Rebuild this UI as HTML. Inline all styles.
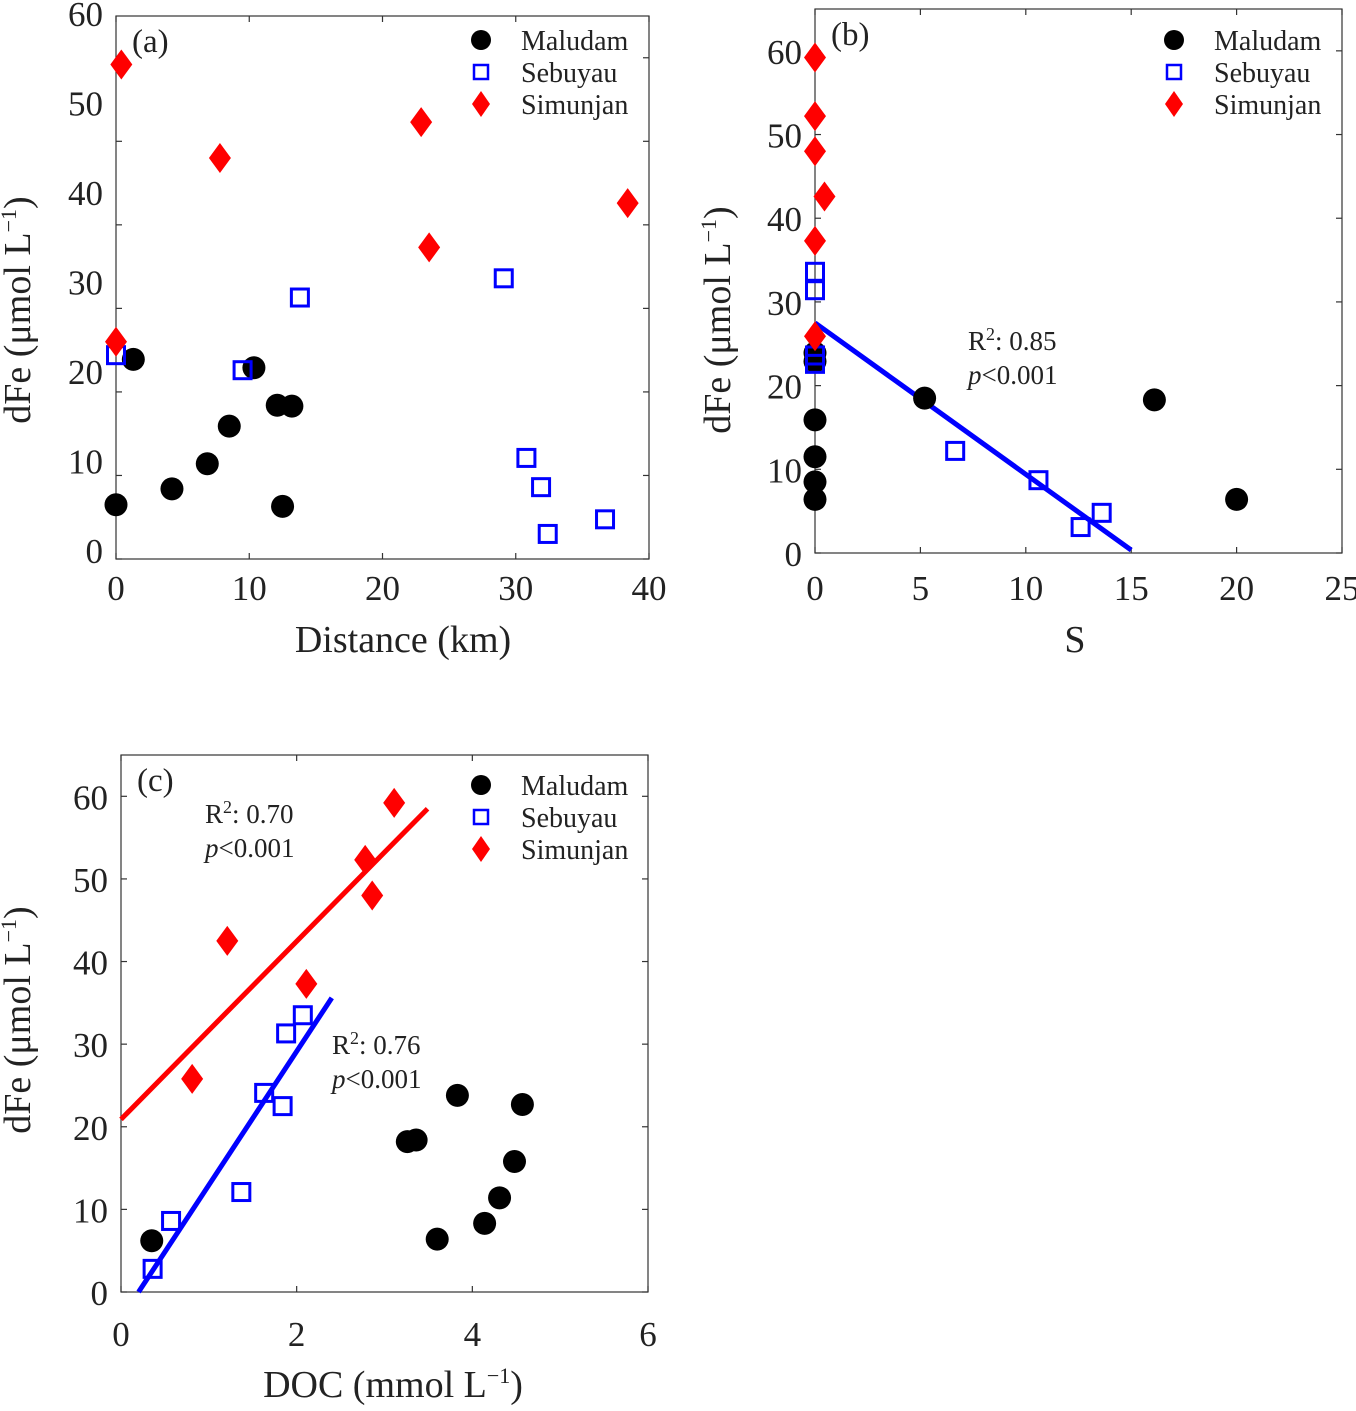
<!DOCTYPE html>
<html><head><meta charset="utf-8"><style>
body{margin:0;background:#fff}
svg text{font-family:"Liberation Serif",serif;fill:#222}
</style></head><body>
<svg id="fig" width="1356" height="1406" viewBox="0 0 1356 1406" font-family="Liberation Serif, serif" xmlns="http://www.w3.org/2000/svg"></svg>
<script>
// Panel (a): distance
const aMalX=[0,1.3,4.2,6.85,8.5,10.35,12.1,13.2,12.5];
const aMalY=[6.5,23.9,8.4,11.4,15.9,22.9,18.4,18.3,6.3];
const aSebX=[0,9.5,13.8,29.1,30.8,31.9,32.4,36.7];
const aSebY=[24.4,22.6,31.3,33.6,12.1,8.6,3.0,4.75];
const aSimX=[0.4,7.8,22.9,23.5,38.4,0];
const aSimY=[59.2,48.0,52.3,37.3,42.6,26.0];
// Panel (b): salinity
const bMalX=[0,0,0,0,0,0,5.2,16.1,20.0];
const bMalY=[23.9,22.9,15.9,11.5,8.5,6.4,18.5,18.3,6.4];
const bSebX=[0,0,0,0,6.65,10.6,12.6,13.6];
const bSebY=[33.6,31.4,23.6,22.6,12.2,8.7,3.1,4.8];
const bSimX=[0,0,0,0.45,0,0];
const bSimY=[59.2,52.2,48.0,42.6,37.3,25.9];
const bFitX=[0,15];
const bFitY=[27.5,0.35];
// Panel (c): DOC
const cMalX=[0.35,3.26,3.36,3.83,3.6,4.14,4.31,4.48,4.57];
const cMalY=[6.2,18.2,18.4,23.8,6.4,8.3,11.4,15.8,22.7];
const cSebX=[0.36,0.57,1.37,1.63,1.84,1.88,2.07];
const cSebY=[2.8,8.6,12.1,24.1,22.5,31.3,33.5];
const cSimX=[0.81,1.21,2.11,2.78,2.86,3.11];
const cSimY=[25.8,42.5,37.3,52.3,48.0,59.2];
const cRedFitX=[0,3.49];
const cRedFitY=[20.9,58.5];
const cBlueFitX=[0.2,2.4];
const cBlueFitY=[0,35.6];
const yTicks=[0,10,20,30,40,50,60];
const aXTicks=[0,10,20,30,40];
const bXTicks=[0,5,10,15,20,25];
const cXTicks=[0,2,4,6];

const NS="http://www.w3.org/2000/svg";
const svg=document.getElementById('fig');
function mk(tag,attrs,parent,txt){const e=document.createElementNS(NS,tag);for(const k in attrs)e.setAttribute(k,attrs[k]);if(txt!==undefined)e.textContent=txt;(parent||svg).appendChild(e);return e;}

function panel(P){
  const g=mk('g',{});
  
  
  const sx=v=>P.x0+(v-P.xmin)/(P.xmax-P.xmin)*(P.x1-P.x0);
  const sy=v=>P.y1-(v/65)*(P.y1-P.y0);
  const fr=mk('rect',{x:P.x0,y:P.y0,width:P.x1-P.x0,height:P.y1-P.y0,fill:'none',stroke:'#333','stroke-width':1.2},g);
  
  
  P.xt.forEach(v=>{const x=sx(v);
    mk('line',{x1:x,x2:x,y1:P.y1,y2:P.y1-6,stroke:'#333','stroke-width':1.2},g);
    mk('line',{x1:x,x2:x,y1:P.y0,y2:P.y0+6,stroke:'#333','stroke-width':1.2},g);
    const t=mk('text',{x:x,y:P.xlabY,'font-size':35,'text-anchor':'middle'},g,String(v));
    
    
  });
  yTicks.forEach(v=>{const y=sy(v);
    mk('line',{x1:P.x0,x2:P.x0+6,y1:y,y2:y,stroke:'#333','stroke-width':1.2},g);
    mk('line',{x1:P.x1,x2:P.x1-6,y1:y,y2:y,stroke:'#333','stroke-width':1.2},g);
    const ly=P.labY?P.labY(v):y+1;
    const t=mk('text',{x:P.x0-13,y:ly+12,'font-size':35,'text-anchor':'end'},g,String(v));
    
    
  });
  (P.fits||[]).forEach(f=>{
    const l=mk('line',{x1:sx(f.x[0]),y1:sy(f.y[0]),x2:sx(f.x[1]),y2:sy(f.y[1]),stroke:f.c,'stroke-width':5},g);
    
    
  });
  P.mal[0].forEach((v,i)=>{const c=mk('circle',{cx:sx(v),cy:sy(P.mal[1][i]),r:11.5,fill:'#000'},g);
    
    });
  P.seb[0].forEach((v,i)=>{const c=mk('rect',{x:sx(v)-8.5,y:sy(P.seb[1][i])-8.5,width:17,height:17,fill:'none',stroke:'#0000ff','stroke-width':3},g);
    
    });
  P.sim[0].forEach((v,i)=>{const x=sx(v),y=sy(P.sim[1][i]);
    const c=mk('polygon',{points:`${x},${y-15} ${x+11},${y} ${x},${y+15} ${x-11},${y}`,fill:'#ff0000'},g);
    
    });
  const lg=mk('g',{},g);
  
  
  const lx=P.lgx, ly=P.lgy;
  mk('circle',{cx:lx,cy:ly,r:10,fill:'#000'},lg);
  mk('rect',{x:lx-7,y:ly+32-7,width:14,height:14,fill:'none',stroke:'#0000ff','stroke-width':2.5},lg);
  mk('polygon',{points:`${lx},${ly+64-13} ${lx+9},${ly+64} ${lx},${ly+64+13} ${lx-9},${ly+64}`,fill:'#ff0000'},lg);
  ['Maludam','Sebuyau','Simunjan'].forEach((s,i)=>{const t=mk('text',{x:lx+40,y:ly+i*32+10,'font-size':28},lg,s);
    
    });
  const pl=mk('text',{x:P.x0+16,y:P.y0+36,'font-size':33},g,P.tag);
  
  
  const xt=mk('text',{x:P.xtx,y:P.xty,'font-size':38,'text-anchor':'middle'},g);
  
  
  xt.innerHTML=P.xtitle;
  const yt=mk('text',{x:0,y:0,'font-size':38,'text-anchor':'middle',transform:`translate(${P.ytx},${P.yty}) rotate(-90)`},g);
  
  
  yt.innerHTML='dFe (μmol L<tspan font-size="22" dy="-14">−1</tspan><tspan dy="14">)</tspan>';
  (P.notes||[]).forEach(n=>{
    const t1=mk('text',{x:n.x,y:n.y,'font-size':27},g);
    
    
    t1.innerHTML='R<tspan font-size="18" dy="-10">2</tspan><tspan dy="10">: '+n.r+'</tspan>';
    const t2=mk('text',{x:n.x,y:n.y+34,'font-size':27},g);
    
    
    t2.innerHTML='<tspan font-style="italic">p</tspan>&lt;0.001';
  });
}
panel({name:'panel-a',tag:'(a)',x0:116,x1:649,y0:16,y1:559,xmin:0,xmax:40,xt:aXTicks,xlabY:600,
  labY:v=>551-v*8.95,mal:[aMalX,aMalY],seb:[aSebX,aSebY],sim:[aSimX,aSimY],lgx:481,lgy:40,
  xtitle:'Distance (km)',xtx:403,xty:652,ytx:30,yty:310});
panel({name:'panel-b',tag:'(b)',x0:815,x1:1342,y0:9,y1:553,xmin:0,xmax:25,xt:bXTicks,xlabY:600,
  mal:[bMalX,bMalY],seb:[bSebX,bSebY],sim:[bSimX,bSimY],lgx:1174,lgy:40,
  fits:[{x:bFitX,y:bFitY,c:'#0000ff',n:'fit-line'}],
  notes:[{x:968,y:350,r:'0.85'}],
  xtitle:'S',xtx:1075,xty:652,ytx:730,yty:320});
panel({name:'panel-c',tag:'(c)',x0:121,x1:648,y0:755,y1:1292,xmin:0,xmax:6,xt:cXTicks,xlabY:1346,
  mal:[cMalX,cMalY],seb:[cSebX,cSebY],sim:[cSimX,cSimY],lgx:481,lgy:785,
  fits:[{x:cRedFitX,y:cRedFitY,c:'#ff0000',n:'simunjan-fit-line'},{x:cBlueFitX,y:cBlueFitY,c:'#0000ff',n:'sebuyau-fit-line'}],
  notes:[{x:205,y:823,r:'0.70'},{x:332,y:1054,r:'0.76'}],
  xtitle:'DOC (mmol L<tspan font-size="22" dy="-14">−1</tspan><tspan dy="14">)</tspan>',xtx:393,xty:1397,ytx:30,yty:1020});
</script>
</body></html>
